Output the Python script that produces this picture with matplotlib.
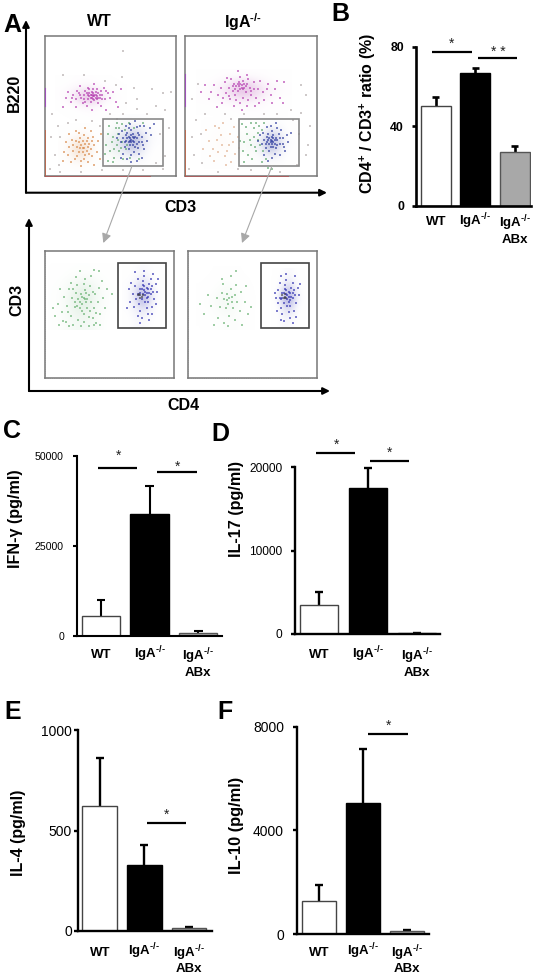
import matplotlib
matplotlib.use("Agg")
import matplotlib.pyplot as plt
from matplotlib.patches import Rectangle
from matplotlib.colors import LinearSegmentedColormap

W, H = 538, 975
plt.rcParams['font.family'] = ['Liberation Sans', 'DejaVu Sans']
plt.rcParams['mathtext.fontset'] = 'custom'
plt.rcParams['mathtext.rm'] = 'Liberation Sans:bold'
plt.rcParams['mathtext.bf'] = 'Liberation Sans:bold'
plt.rcParams['mathtext.default'] = 'rm'

KO = r'IgA$^{\text{-/-}}$'
groups = ['WT', KO, KO + '\nABx']

# Bar chart values (mean, upper error end)
b_mean = [50, 67, 27]
b_err = [54.5, 69.5, 30]
c_mean = [5400, 33900, 800]
c_err = [9900, 41600, 1200]
d_mean = [3490, 17470, 50]
d_err = [4970, 19920, 120]
e_mean = [623, 328, 15]
e_err = [862, 428, 22]
f_mean = [1273, 5055, 100]
f_err = [1890, 7125, 170]

# Flow cytometry dots, estimated by eye (panel percent x, y)
tl_magenta = [(37,57),(35,58),(39,56),(33,55),(41,59),(36,60),(38,54),(34,57),(40,57),(42,56),(30,58),(28,56),(44,58),(31,61),(37,62),(35,53),(39,60),(43,61),(26,59),(24,55),(46,55),(48,59),(22,58),(20,53),(29,52),(33,63),(41,52),(45,63),(50,56),(52,60),(18,60),(16,56),(27,64),(38,66),(32,50),(43,50),(54,53),(56,49),(14,49),(24,49),(36,47),(47,47),(58,62),(34,59),(38,58),(36,56),(40,55),(32,59),(42,58),(37,55),(30,55),(34,62),(36,58),(38,57),(35,56),(41,56),(33,58),(39,58),(37,59),(44,55),(27,58),(25,61),(47,61),(21,56),(31,53),(40,62)]
tl_orange = [(30,20),(28,22),(32,18),(26,17),(34,23),(29,25),(31,15),(27,27),(33,27),(25,21),(35,19),(24,25),(36,14),(22,18),(38,22),(23,12),(28,11),(33,10),(37,28),(21,26),(30,29),(26,31),(19,21),(18,15),(40,17),(41,25),(16,24),(15,17),(35,32),(24,32),(29,17),(31,23),(27,20),(33,21),(25,14),(30,12),(36,25),(20,10),(42,12),(38,8),(28,7),(14,11),(43,30),(19,30),(31,34),(22,22),(26,24),(29,20),(34,16),(32,25)]
tl_blue = [(66,26),(64,28),(68,24),(62,25),(70,27),(65,22),(67,30),(63,31),(69,21),(60,27),(72,24),(61,21),(71,31),(66,33),(64,19),(68,17),(74,28),(58,24),(57,30),(75,22),(70,35),(62,36),(73,36),(66,15),(60,16),(72,16),(77,31),(78,25),(55,27),(80,34),(65,37),(69,39),(76,19),(63,12),(70,11),(67,25),(65,27),(63,27),(69,28),(66,29),(68,27),(64,24),(67,22),(62,29),(70,23),(66,24),(65,25),(67,28),(61,24),(72,29),(74,24),(59,32),(76,36),(81,29),(83,37),(74,13),(66,10),(58,13),(71,20),(64,34)]
tl_green = [(52,28),(55,22),(50,18),(54,34),(57,18),(59,37),(48,30),(53,13),(56,26),(51,24),(60,12),(58,20),(49,36),(62,19),(47,22),(55,38),(61,33),(53,19),(57,34),(52,10),(65,13),(68,34),(72,12),(75,38),(63,22),(46,16),(59,24),(56,30),(48,11),(64,38)]
tl_bg = [(10,36),(12,28),(8,15),(6,44),(11,8),(46,68),(55,41),(62,52),(70,48),(78,44),(85,50),(92,47),(88,30),(92,14),(85,9),(95,34),(14,72),(24,40),(50,44),(42,36),(68,63),(82,62),(96,60),(60,4),(44,4),(28,3),(12,3),(75,4),(90,5),(18,38),(36,39),(5,28),(4,5),(54,65),(60,44),(59,71),(30,72),(90,59),(70,55),(60,89)]
tr_magenta = [(43,65),(41,67),(45,63),(39,64),(47,66),(42,62),(44,68),(40,61),(46,60),(37,66),(49,63),(36,61),(48,69),(42,71),(38,58),(50,58),(33,63),(52,67),(35,69),(31,59),(55,62),(44,56),(39,54),(48,54),(30,67),(27,63),(54,56),(57,68),(34,55),(25,58),(59,60),(42,52),(47,50),(37,50),(60,54),(22,65),(20,60),(28,52),(63,66),(65,58),(18,55),(53,50),(43,47),(68,62),(15,65),(24,49),(72,56),(70,68),(75,67),(12,60),(43,63),(41,64),(45,66),(40,66),(44,62),(42,66),(46,64),(38,62),(36,64),(50,61),(33,57),(56,52),(29,56),(52,62),(32,70),(62,62),(66,52),(74,52),(47,72),(40,75)]
tr_orange = [(28,22),(32,18),(24,26),(36,24),(30,14),(21,19),(26,34),(38,16),(18,25),(34,30),(22,11),(16,33),(40,28),(29,38),(35,10),(19,14),(41,20),(25,17),(33,22),(27,29),(31,8),(14,19),(37,35),(23,36)]
tr_blue = [(66,25),(64,27),(68,23),(62,24),(70,26),(65,21),(67,29),(63,30),(69,20),(60,26),(72,23),(61,20),(71,30),(66,32),(64,18),(68,16),(74,27),(58,23),(57,29),(75,21),(70,34),(62,35),(73,33),(66,13),(60,15),(72,15),(77,29),(78,24),(55,25),(65,36),(76,18),(67,24),(65,26),(63,26),(69,27),(66,28),(68,26),(64,23),(67,21),(62,28),(70,22),(66,23),(65,24),(67,27),(61,23),(72,27),(74,23),(59,31),(80,31),(63,11),(69,38)]
tr_green = [(47,30),(50,22),(44,18),(52,34),(54,18),(56,36),(46,35),(51,12),(55,26),(49,26),(58,10),(53,21),(43,37),(59,18),(42,25),(54,38),(58,33),(48,15),(55,31),(45,10),(61,12),(60,38),(63,6),(66,5),(50,38),(45,24),(57,22),(52,28)]
tr_bg = [(8,40),(12,30),(7,15),(5,55),(13,9),(88,45),(92,58),(82,40),(86,30),(92,15),(85,8),(95,36),(10,66),(88,65),(80,47),(15,44),(30,44),(45,44),(60,44),(70,44),(25,3),(50,4),(72,3),(40,5),(93,22),(5,28),(3,5),(35,41)]
bl_green = [(30,63),(28,66),(32,60),(26,62),(34,65),(29,58),(31,69),(27,55),(33,55),(24,67),(36,60),(23,56),(35,72),(30,50),(25,73),(38,55),(21,63),(20,49),(39,66),(34,48),(26,46),(30,44),(19,70),(41,60),(37,47),(17,57),(42,71),(15,64),(43,50),(22,42),(13,52),(38,42),(31,78),(24,79),(36,80),(45,63),(16,44),(12,70),(28,41),(40,43),(10,58),(47,55),(8,49),(20,75),(44,76),(27,84),(38,85),(48,70),(6,55),(34,41),(29,64),(31,62),(27,60),(33,62),(25,57),(32,67),(29,53),(35,53),(23,60),(37,68),(18,52),(40,51),(14,45),(19,41),(30,74),(43,42),(22,70),(52,66),(11,42),(42,84)]
bl_blue = [(78,68),(80,70),(76,66),(82,66),(79,63),(77,72),(81,74),(75,62),(83,72),(74,70),(84,68),(78,60),(72,66),(80,60),(76,76),(82,78),(73,58),(85,62),(70,72),(86,74),(71,62),(79,55),(74,53),(83,56),(68,66),(77,80),(69,56),(87,68),(72,78),(80,50),(75,47),(65,70),(66,60),(81,46),(72,49),(77,84),(84,82),(70,83),(67,75),(74,43),(86,58),(79,67),(77,69),(81,67),(75,70),(79,71),(78,65),(82,70),(73,65),(80,64),(76,73),(74,67),(64,55),(88,78),(83,50)]
bl_gray = [(73,66),(74,65),(75,64),(72,65),(76,65),(74,63)]
br_green = [(32,63),(30,66),(34,60),(28,62),(36,65),(31,58),(33,70),(29,55),(35,55),(26,67),(38,60),(25,56),(37,73),(32,49),(27,74),(40,53),(22,63),(23,47),(41,68),(36,46),(28,43),(44,60),(18,57),(45,72),(15,65),(46,50),(20,42),(12,50),(9,58),(33,80),(42,42),(37,84),(31,41),(49,56),(26,78),(30,61),(34,64)]
br_blue = [(77,65),(79,67),(75,63),(81,63),(78,60),(76,69),(80,71),(74,59),(82,69),(73,67),(83,65),(77,57),(71,63),(79,57),(75,73),(81,75),(72,55),(84,59),(70,69),(85,71),(70,59),(78,52),(73,50),(82,53),(68,63),(76,77),(69,53),(86,65),(71,75),(79,47),(74,45),(67,67),(81,43),(72,46),(76,82),(83,80),(72,80),(78,64),(76,66),(80,64),(74,67),(78,68),(77,62),(81,67),(72,62),(79,61),(75,70),(73,63),(87,74),(84,48)]
br_gray = [(75,64),(76,63),(74,63),(75,66),(73,65)]

# Density of each cloud estimated by eye (0-9, rows from top to bottom)
tl_magenta_haze = [[0,1,1,0,0],[1,3,4,2,0],[1,5,9,3,1],[0,2,3,1,0],[0,0,1,0,0]]
tl_orange_haze = [[0,0,1,0,0],[1,3,4,2,0],[1,5,7,3,0],[1,4,5,2,0],[0,1,1,0,0]]
tl_blue_haze = [[0,1,1,1,0],[1,3,5,3,1],[2,5,9,4,1],[1,3,5,3,0],[0,1,1,1,0]]
tl_green_haze = [[0,2,1,0,0],[2,4,2,1,0],[3,5,2,1,0],[2,4,3,1,0],[0,2,1,0,0]]
tr_magenta_haze = [[0,1,1,1,0],[1,3,7,3,1],[1,4,8,4,1],[1,2,3,2,0],[0,0,1,1,0]]
tr_orange_haze = [[0,1,1,0,0],[1,2,2,1,0],[1,2,3,2,0],[1,2,2,1,0],[0,1,1,0,0]]
tr_blue_haze = [[0,0,1,1,0],[0,2,5,3,0],[1,4,9,4,1],[0,3,5,3,0],[0,1,1,1,0]]
tr_green_haze = [[0,1,1,0,0],[2,3,2,1,0],[3,4,2,1,0],[2,3,2,1,0],[0,1,1,0,0]]
bl_green_haze = [[0,1,1,1,0],[1,3,5,3,1],[1,4,7,4,1],[1,4,6,3,1],[1,3,4,3,0]]
bl_blue_haze = [[0,1,2,1,0],[1,3,5,3,0],[1,5,9,5,1],[1,3,5,3,0],[0,2,2,1,0]]
br_green_haze = [[0,0,1,0,0],[0,1,3,1,0],[1,3,5,3,0],[1,2,4,2,0],[0,1,2,2,0]]
br_blue_haze = [[0,1,2,1,0],[0,3,5,3,0],[1,6,9,5,1],[0,3,5,3,0],[0,2,2,1,0]]

C_MAG, C_ORG, C_BLUE, C_GRN, C_BG = '#b53fb0', '#d8894a', '#2c3a9e', '#5aa56a', '#b0a8a8'
C_BLUE2, C_GRN2 = '#3030b0', '#66b070'


def ax_px(x0, y0, x1, y1):
    return fig.add_axes([x0 / W, 1 - y1 / H, (x1 - x0) / W, (y1 - y0) / H])


def dots(ax, pts, color, alpha=0.62, s=0.8):
    ax.scatter([p[0] for p in pts], [p[1] for p in pts], s=s, c=color, marker='s',
               linewidths=0, alpha=alpha, zorder=2)


def haze(ax, grid, extent, color, peak=0.6):
    cmap = LinearSegmentedColormap.from_list('h', [(1, 1, 1, 0), matplotlib.colors.to_rgba(color, peak)])
    ax.imshow(grid, extent=extent, origin='upper', cmap=cmap, vmin=0, vmax=9,
              interpolation='bicubic', aspect='auto', zorder=1)


def flow(rect, hazes, clouds, gate, gate_color, edges):
    ax = ax_px(*rect)
    for grid, extent, col, peak in hazes:
        haze(ax, grid, extent, col, peak)
    ax.set_xlim(0, 100)
    ax.set_ylim(0, 100)
    ax.set_xticks([])
    ax.set_yticks([])
    for s in ax.spines.values():
        s.set_color('#777777')
        s.set_linewidth(1.1)
    for pts, col in clouds:
        dots(ax, pts, col)
    ax.add_patch(Rectangle((gate[0], gate[1]), gate[2] - gate[0], gate[3] - gate[1], fill=False,
                           ec=gate_color, lw=1.2, zorder=3))
    for xs, ys, col, ls, lw in edges:
        ax.plot(xs, ys, color=col, lw=lw, ls=ls, zorder=4, alpha=0.8, clip_on=False)
    return ax


def bars(rect, mean, err, top, ticks, xlim, width, lw, tick_fs, tick_w, tick_pad, label_fs, base_pad, line_sp, line_off, sigs):
    ax = ax_px(*rect)
    xs = [0, 1, 2]
    fc = ['white', 'black', '#a8a8a8']
    ec = ['#444444', 'black', '#555555']
    ax.bar(xs, mean, width=width, color=fc, edgecolor=ec, linewidth=1.0, zorder=2)
    for x, m, e in zip(xs, mean, err):
        ax.plot([x, x], [m, e], color='black', lw=lw, zorder=1, solid_capstyle='butt', clip_on=False)
        ax.plot([x - 0.09, x + 0.09], [e, e], color='black', lw=lw, zorder=1, solid_capstyle='butt', clip_on=False)
    ax.set_xlim(*xlim)
    ax.set_ylim(0, top)
    ax.set_yticks(ticks)
    ax.set_yticklabels([str(t) for t in ticks], fontsize=tick_fs, fontweight=tick_w)
    ax.tick_params(axis='y', length=3.2, width=lw, pad=tick_pad)
    ax.set_xticks(xs)
    ax.set_xticklabels(groups, fontsize=label_fs, fontweight='bold', linespacing=line_sp)
    ax.tick_params(axis='x', length=0, pad=base_pad)
    # baseline alignment keeps WT and IgA on one line; the two-line label aligns on its last line
    for lab in ax.get_xticklabels():
        lab.set_verticalalignment('baseline')
    ax.xaxis.get_major_ticks()[2].set_pad(base_pad + line_off)
    for s in ['top', 'right']:
        ax.spines[s].set_visible(False)
    for s in ['left', 'bottom']:
        ax.spines[s].set_linewidth(lw)
    for x0, x1, y, sx, sy, star in sigs:
        ax.plot([x0, x1], [y, y], color='black', lw=1.6, clip_on=False, solid_capstyle='butt')
        ax.text(sx, sy, star, ha='center', va='center', fontsize=10, color='#222222', clip_on=False)
    return ax


fig = plt.figure(figsize=(W / 100, H / 100), dpi=100)

# Flow panels
flow((44.5, 36, 176, 176),
     [(tl_magenta_haze, (8, 62, 40, 72), C_MAG, 0.6), (tl_orange_haze, (10, 48, 3, 38), C_ORG, 0.6),
      (tl_green_haze, (44, 74, 5, 42), C_GRN, 0.35), (tl_blue_haze, (46, 88, 5, 44), C_BLUE, 0.6)],
     [(tl_bg, C_BG), (tl_orange, C_ORG), (tl_green, C_GRN), (tl_magenta, C_MAG), (tl_blue, C_BLUE)],
     (44.3, 7.4, 90, 40.5), '#8a8a8a',
     [([0, 0], [50, 63], '#a040c0', '-', 0.8), ([0, 0], [0, 33], '#c06040', '-', 0.7), ([0, 80], [0, 0], '#b05050', '-', 0.7)])
flow((185, 36, 317, 176),
     [(tr_magenta_haze, (8, 80, 42, 76), C_MAG, 0.6), (tr_orange_haze, (12, 46, 5, 42), C_ORG, 0.3),
      (tr_green_haze, (40, 70, 5, 42), C_GRN, 0.3), (tr_blue_haze, (46, 84, 6, 42), C_BLUE, 0.6)],
     [(tr_bg, C_BG), (tr_orange, '#e0b090'), (tr_green, C_GRN), (tr_magenta, C_MAG), (tr_blue, C_BLUE)],
     (40.7, 7.4, 86.6, 40.5), '#8a8a8a',
     [([0, 0], [50, 73], '#a040c0', '-', 0.8), ([0, 0], [0, 33], '#c06040', '-', 0.7), ([0, 78], [0, 0], '#b05050', '-', 0.7)])
flow((45, 250.7, 173.7, 378.3),
     [(bl_green_haze, (2, 56, 38, 90), C_GRN2, 0.42), (bl_blue_haze, (60, 92, 40, 88), C_BLUE2, 0.55)],
     [(bl_green, C_GRN2), (bl_blue, C_BLUE2), (bl_gray, '#444444')],
     (56.5, 39.7, 93.8, 90.1), '#444444',
     [([0, 100], [0, 0], '#888888', ':', 0.6), ([0, 0], [0, 100], '#888888', ':', 0.6)])
flow((188.3, 250.7, 317, 378.3),
     [(br_green_haze, (6, 54, 38, 88), C_GRN2, 0.32), (br_blue_haze, (64, 91, 40, 86), C_BLUE2, 0.6)],
     [(br_green, C_GRN2), (br_blue, C_BLUE2), (br_gray, '#444444')],
     (56.5, 39.7, 93.6, 90.1), '#444444',
     [([0, 100], [0, 0], '#888888', ':', 0.6), ([0, 0], [0, 100], '#888888', ':', 0.6)])

# Bar panels
bars((416, 46.7, 531, 205.7), b_mean, b_err, 80, [0, 40, 80], (-0.5, 2.41), 0.77, 1.9, 8.8, 'bold', 5.5, 9.5, 14, 1.15, 13,
     [(-0.1, 0.92, 77.3, 0.41, 81.5, '*'), (1.06, 2.05, 74.1, 1.58, 77.5, '* *')])
bars((76.7, 455.7, 222, 635.7), c_mean, c_err, 50000, [0, 25000, 50000], (-0.5, 2.49), 0.79, 1.5, 7.6, 'normal', 6, 9.5, 16, 1.15, 13,
     [(-0.06, 0.75, 46600, 0.37, 50000, '*'), (1.16, 1.97, 45400, 1.57, 47000, '*')])
bars((295, 467.3, 440, 633.7), d_mean, d_err, 20000, [0, 10000, 20000], (-0.49, 2.47), 0.77, 1.7, 8.6, 'normal', 6, 9.5, 17.5, 1.15, 13,
     [(-0.06, 0.74, 21680, 0.36, 22700, '*'), (1.04, 1.83, 20700, 1.44, 21700, '*')])
bars((78, 730, 211.7, 931), e_mean, e_err, 1000, [0, 500, 1000], (-0.49, 2.51), 0.78, 1.7, 10, 'normal', 1, 9.5, 17.8, 1.0, 11.5,
     [(1.06, 1.93, 536, 1.5, 578, '*')])
bars((296.7, 726.7, 429, 934), f_mean, f_err, 8000, [0, 4000, 8000], (-0.5, 2.49), 0.77, 1.7, 10, 'normal', 6, 9.5, 15.6, 1.0, 11.5,
     [(1.12, 2.01, 7730, 1.57, 8020, '*')])

# Overlay in pixel coordinates for arrows and labels
ov = fig.add_axes([0, 0, 1, 1], facecolor='none')
ov.set_xlim(0, W)
ov.set_ylim(H, 0)
ov.axis('off')


def arrow(p0, p1, color, lw, ms):
    ov.annotate('', xy=p1, xytext=p0,
                arrowprops=dict(arrowstyle='-|>', color=color, lw=lw, mutation_scale=ms,
                                shrinkA=0, shrinkB=0))


arrow((26, 192.7), (26, 20), 'black', 1.5, 10)
arrow((26, 192.7), (327, 192.7), 'black', 1.5, 10)
arrow((29, 391), (29, 218), 'black', 1.5, 10)
arrow((29, 391), (330, 391), 'black', 1.5, 10)
arrow((132, 166), (103.3, 243), '#a8a8a8', 0.8, 14)
arrow((272, 166), (242, 243), '#a8a8a8', 0.8, 14)


def t(x, y, s, fs, rot=0, weight='bold'):
    ov.text(x, y, s, fontsize=fs, fontweight=weight, rotation=rot, ha='center', va='center')


for x, y, s in [(12, 25, 'A'), (340, 14, 'B'), (12, 431, 'C'), (220, 434, 'D'), (13, 712, 'E'), (225, 712, 'F')]:
    t(x, y, s, 18)
t(99, 22, 'WT', 11.5)
t(243, 22, KO, 11.5)
t(180, 207, 'CD3', 11.5)
t(14, 93, 'B220', 11.5, 90)
t(17, 300, 'CD3', 11.5, 90)
t(183, 406, 'CD4', 11.5)
t(368, 113, r'CD4$^{+}$ / CD3$^{+}$ ratio (%)', 11.5, 90)
t(16, 519, 'IFN-γ (pg/ml)', 11.6, 90)
t(237, 509, 'IL-17 (pg/ml)', 11.6, 90)
t(19, 833, 'IL-4 (pg/ml)', 11.5, 90)
t(236.7, 825, 'IL-10 (pg/ml)', 11.8, 90)

fig.savefig('out.png', dpi=100)
